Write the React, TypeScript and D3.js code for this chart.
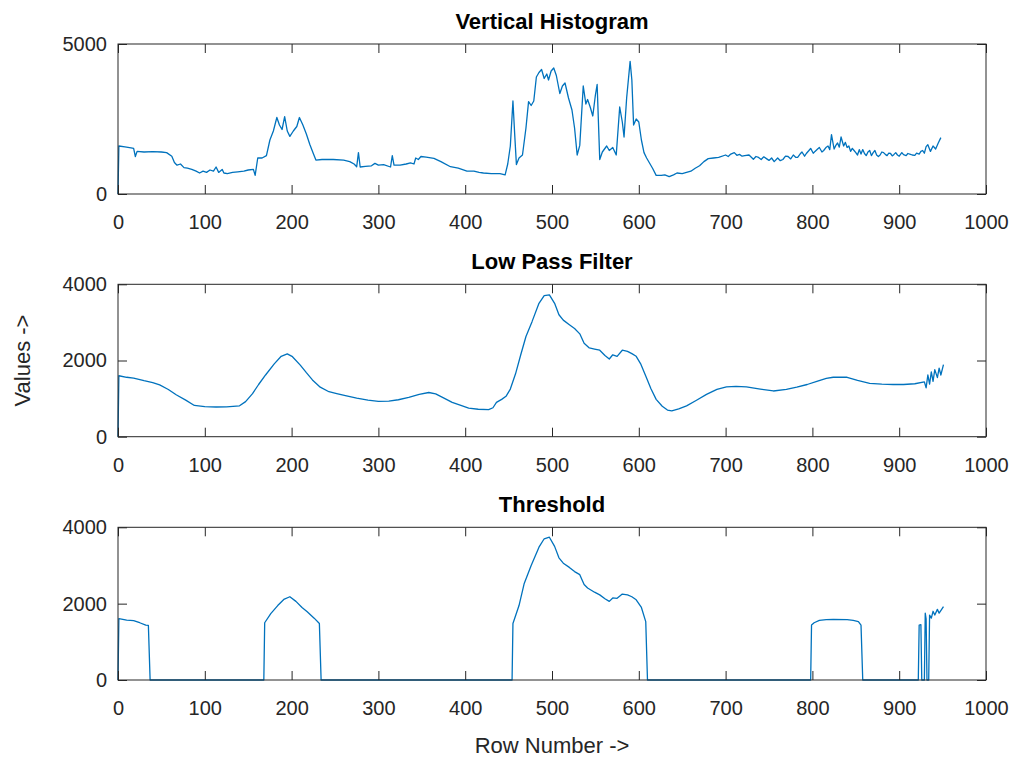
import React, { useRef, useEffect } from 'react';
import * as d3 from 'd3';

// Vertical histogram (row, value)
const histRows = [0, 1, 8, 15, 18, 20, 22, 30, 40, 50, 56, 62, 65, 68, 72, 76, 80, 85, 90, 94, 98, 102, 106, 110, 113, 116, 120, 122, 126, 132, 138, 145, 150, 156, 158, 161, 166, 171, 175, 179, 183, 186, 189, 192, 195, 198, 202, 206, 209, 213, 217, 221, 225, 228, 235, 248, 260, 267, 272, 275, 277, 279, 285, 292, 296, 300, 306, 314, 316, 318, 325, 332, 337, 341, 343, 346, 349, 355, 364, 372, 383, 392, 402, 410, 416, 421, 430, 440, 446, 449, 452, 455, 457, 459, 462, 466, 470, 473, 476, 479, 482, 485, 488, 491, 494, 496, 499, 502, 505, 509, 512, 515, 519, 523, 526, 529, 532, 536, 539, 541, 544, 547, 550, 552, 555, 558, 563, 566, 570, 574, 578, 581, 583, 586, 590, 592, 594, 597, 600, 603, 606, 609, 612, 616, 620, 626, 630, 635, 640, 644, 650, 655, 660, 665, 670, 675, 680, 686, 692, 700, 703, 706, 710, 713, 716, 719, 722, 727, 732, 735, 738, 741, 744, 747, 750, 753, 756, 760, 763, 766, 769, 772, 775, 778, 781, 783, 786, 788, 791, 793, 796, 798, 801, 803, 806, 808, 811, 813, 816, 818, 820, 822, 825, 827, 829, 831, 833, 836, 838, 840, 842, 844, 846, 848, 850, 852, 854, 856, 858, 860, 862, 864, 866, 868, 870, 872, 874, 876, 878, 880, 882, 884, 886, 888, 890, 892, 894, 896, 898, 900, 903, 905, 908, 910, 913, 915, 918, 920, 923, 925, 927, 929, 931, 933, 936, 939, 942, 945, 948, 951];
const histValues = [0, 1600, 1570, 1540, 1520, 1250, 1420, 1400, 1410, 1400, 1380, 1260, 1050, 960, 1000, 880, 860, 820, 760, 700, 760, 720, 800, 760, 900, 720, 820, 700, 680, 720, 740, 760, 800, 820, 620, 1200, 1200, 1280, 1800, 2100, 2550, 2300, 2150, 2580, 2100, 1920, 2100, 2250, 2550, 2300, 2000, 1650, 1350, 1130, 1150, 1150, 1130, 1080, 1000, 910, 1380, 900, 920, 940, 1020, 960, 980, 900, 1280, 960, 960, 1000, 1040, 1000, 1200, 1150, 1250, 1230, 1190, 1080, 910, 860, 760, 760, 720, 700, 680, 680, 640, 1000, 1600, 3100, 2000, 980, 1200, 1300, 2200, 3080, 2950, 3100, 3900, 4050, 4150, 3850, 4000, 3800, 4100, 4200, 3950, 3350, 3600, 3700, 3200, 2800, 2200, 1300, 1620, 3600, 3000, 3150, 2900, 2600, 3300, 3650, 1150, 1400, 1600, 1450, 1550, 1300, 2900, 2400, 1900, 3200, 4420, 3800, 2300, 2500, 2400, 1800, 1380, 1200, 1050, 850, 620, 620, 640, 580, 640, 700, 680, 720, 760, 860, 940, 1080, 1180, 1200, 1220, 1300, 1250, 1330, 1380, 1290, 1320, 1260, 1280, 1300, 1160, 1250, 1220, 1150, 1240, 1180, 1120, 1200, 1080, 1200, 1110, 1150, 1260, 1250, 1170, 1300, 1220, 1220, 1340, 1400, 1260, 1350, 1450, 1520, 1360, 1420, 1500, 1550, 1400, 1450, 1560, 1600, 1480, 1980, 1500, 1620, 1700, 1560, 1900, 1600, 1720, 1550, 1600, 1420, 1520, 1450, 1380, 1300, 1480, 1330, 1480, 1350, 1280, 1400, 1450, 1280, 1380, 1450, 1300, 1250, 1300, 1400, 1380, 1320, 1280, 1360, 1350, 1270, 1320, 1380, 1300, 1260, 1380, 1310, 1280, 1350, 1320, 1300, 1290, 1360, 1330, 1420, 1450, 1360, 1580, 1640, 1420, 1600, 1500, 1700, 1880];

// Low pass filter
const lowRows = [0, 1, 10, 18, 30, 40, 48, 58, 67, 78, 88, 100, 113, 125, 140, 147, 155, 162, 170, 180, 188, 195, 201, 210, 217, 224, 233, 243, 252, 262, 275, 288, 300, 312, 323, 335, 347, 358, 366, 375, 385, 395, 404, 415, 427, 432, 436, 442, 447, 452, 458, 464, 470, 477, 485, 491, 497, 503, 508, 513, 520, 526, 532, 537, 543, 549, 555, 561, 566, 570, 575, 581, 587, 592, 597, 602, 608, 614, 620, 627, 633, 638, 646, 655, 666, 678, 690, 701, 712, 724, 740, 755, 770, 782, 794, 806, 816, 824, 840, 852, 866, 880, 893, 905, 918, 929, 931, 933, 935, 937, 939, 941, 944, 946, 948, 951];
const lowValues = [0, 1600, 1560, 1540, 1470, 1420, 1360, 1240, 1100, 960, 820, 790, 780, 785, 810, 920, 1130, 1370, 1620, 1910, 2110, 2175, 2100, 1880, 1680, 1490, 1300, 1180, 1130, 1075, 1010, 960, 925, 935, 970, 1030, 1110, 1160, 1125, 1020, 900, 820, 750, 720, 710, 760, 900, 980, 1060, 1250, 1650, 2150, 2630, 3020, 3500, 3700, 3720, 3500, 3200, 3060, 2940, 2840, 2700, 2450, 2330, 2300, 2270, 2130, 2040, 2150, 2110, 2270, 2240, 2180, 2110, 1920, 1590, 1260, 980, 800, 700, 680, 730, 810, 950, 1110, 1240, 1310, 1320, 1310, 1250, 1200, 1240, 1300, 1370, 1460, 1530, 1560, 1560, 1480, 1400, 1380, 1370, 1370, 1390, 1440, 1280, 1620, 1380, 1700, 1450, 1760, 1550, 1800, 1620, 1890];

// Threshold
const threshRows = [0, 1, 10, 18, 25, 32, 35, 37, 168, 169, 176, 184, 191, 198, 205, 212, 218, 226, 232, 234, 454, 455, 462, 468, 476, 485, 491, 497, 503, 508, 513, 520, 526, 532, 537, 541, 549, 555, 561, 566, 570, 575, 581, 587, 592, 597, 603, 608, 610, 798, 799, 802, 808, 816, 824, 840, 847, 853, 856, 858, 922, 923, 925, 926, 929, 930, 931, 932, 934, 935, 937, 939, 941, 944, 946, 951];
const threshValues = [0, 1610, 1570, 1555, 1500, 1440, 1430, 0, 0, 1500, 1740, 1950, 2110, 2180, 2060, 1900, 1790, 1620, 1480, 0, 0, 1480, 1950, 2530, 3000, 3480, 3700, 3740, 3500, 3200, 3060, 2950, 2840, 2760, 2500, 2410, 2300, 2230, 2130, 2060, 2150, 2140, 2250, 2230, 2180, 2100, 1900, 1530, 0, 0, 1440, 1500, 1560, 1580, 1590, 1580, 1560, 1530, 1440, 0, 0, 1440, 1450, 0, 0, 1750, 1600, 0, 0, 1700, 1620, 1800, 1700, 1850, 1750, 1920];

const xTicks = [0, 100, 200, 300, 400, 500, 600, 700, 800, 900, 1000];

const panels = [
  { title: 'Vertical Histogram', rows: histRows, values: histValues, yMax: 5000, yTicks: [0, 5000], top: 44, bottom: 194 },
  { title: 'Low Pass Filter', rows: lowRows, values: lowValues, yMax: 4000, yTicks: [0, 2000, 4000], top: 284.3, bottom: 436.7 },
  { title: 'Threshold', rows: threshRows, values: threshValues, yMax: 4000, yTicks: [0, 2000, 4000], top: 527.3, bottom: 680 },
];

const App = () => {
  const svgRef = useRef<SVGSVGElement>(null);

  useEffect(() => {
    const svg = d3.select(svgRef.current);
    svg.selectAll('*').remove();
    const width = 1025;
    const height = 765;
    const left = 118;
    const right = 986;
    const axisColor = '#262626';
    const font = '"Liberation Sans", Arial, Helvetica, sans-serif';

    svg.attr('width', width).attr('height', height);
    svg.append('rect').attr('width', width).attr('height', height).attr('fill', '#fff');

    const x = d3.scaleLinear().domain([0, 1000]).range([left, right]);

    panels.forEach(p => {
      const y = d3.scaleLinear().domain([0, p.yMax]).range([p.bottom, p.top]);
      const g = svg.append('g');

      const pts = p.rows.map((r, i) => [r, p.values[i]] as [number, number]);
      const line = d3.line<[number, number]>().x(d => x(d[0])).y(d => y(d[1]));
      g.append('path')
        .datum(pts)
        .attr('fill', 'none')
        .attr('stroke', '#0072BD')
        .attr('stroke-width', 1.3)
        .attr('stroke-linejoin', 'round')
        .attr('d', line);

      // ticks point inward on all four sides, like MATLAB's box
      const bx = g.append('g').attr('transform', `translate(0,${p.bottom})`)
        .call(d3.axisBottom(x).tickValues(xTicks).tickSize(-9).tickSizeOuter(0).tickPadding(21).tickFormat(d3.format('d')));
      const tx = g.append('g').attr('transform', `translate(0,${p.top})`)
        .call(d3.axisTop(x).tickValues(xTicks).tickSize(-9).tickSizeOuter(0).tickFormat(() => ''));
      const ly = g.append('g').attr('transform', `translate(${left},0)`)
        .call(d3.axisLeft(y).tickValues(p.yTicks).tickSize(-9).tickSizeOuter(0).tickPadding(11).tickFormat(d3.format('d')));
      const ry = g.append('g').attr('transform', `translate(${right},0)`)
        .call(d3.axisRight(y).tickValues(p.yTicks).tickSize(-9).tickSizeOuter(0).tickFormat(() => ''));

      [bx, tx, ly, ry].forEach(a => {
        a.select('.domain').remove();
        a.selectAll('line').attr('stroke', axisColor);
        a.selectAll('text').attr('fill', axisColor).style('font-family', font).style('font-size', '20px');
      });

      g.append('rect')
        .attr('x', left).attr('y', p.top)
        .attr('width', right - left).attr('height', p.bottom - p.top)
        .attr('fill', 'none')
        .attr('stroke', axisColor)
        .attr('stroke-width', 1);

      g.append('text')
        .attr('x', (left + right) / 2)
        .attr('y', p.top - 15)
        .attr('text-anchor', 'middle')
        .style('font-family', font)
        .style('font-size', '22px')
        .style('font-weight', 'bold')
        .attr('fill', '#000')
        .text(p.title);
    });

    svg.append('text')
      .attr('transform', `translate(30,${(panels[1].top + panels[1].bottom) / 2}) rotate(-90)`)
      .attr('text-anchor', 'middle')
      .style('font-family', font)
      .style('font-size', '22px')
      .attr('fill', axisColor)
      .text('Values ->');

    svg.append('text')
      .attr('x', (left + right) / 2)
      .attr('y', 753)
      .attr('text-anchor', 'middle')
      .style('font-family', font)
      .style('font-size', '22px')
      .attr('fill', axisColor)
      .text('Row Number ->');
  }, []);

  return (
    <div style={{ position: 'absolute', left: 0, top: 0 }}>
      <svg ref={svgRef} style={{ display: 'block' }}></svg>
    </div>
  );
};

export default App;
